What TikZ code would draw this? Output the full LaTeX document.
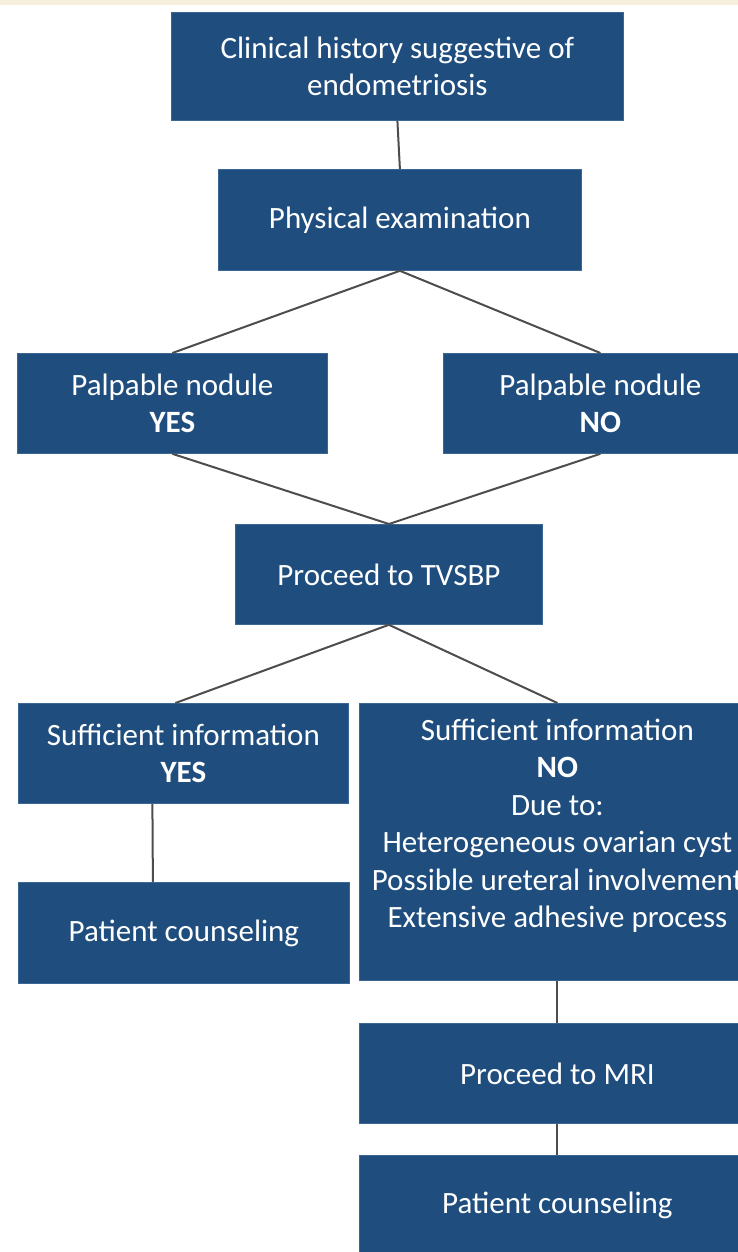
\documentclass[tikz,border=0pt]{standalone}
\usepackage{fontspec}
\setmainfont{Carlito}
\definecolor{boxblue}{HTML}{1F4E7E}
\definecolor{edgeblue}{HTML}{3A6893}
\definecolor{linegray}{HTML}{4D4D4D}
\definecolor{topbeige}{HTML}{F5EFDB}
\begin{document}
\begin{tikzpicture}[x=1pt,y=-1pt,
  flowbox/.style={fill=boxblue, draw=edgeblue, line width=0.8pt, anchor=north west,
    inner sep=0pt, align=center, text=white, font=\fontsize{31}{37.5}\selectfont},
  link/.style={draw=linegray, line width=2pt}]
\useasboundingbox (0,0) rectangle (738,1252);
\clip (0,0) rectangle (738,1252);
\fill[white] (0,0) rectangle (738,1252);
\fill[topbeige] (0,0) rectangle (738,5);

\node[flowbox, minimum width=452pt, minimum height=108pt] (b1) at (171,12)
  {Clinical history suggestive of\\endometriosis};
\node[flowbox, minimum width=363pt, minimum height=101pt] (b2) at (218,169)
  {Physical examination};
\node[flowbox, minimum width=310pt, minimum height=100pt] (py) at (17,353)
  {Palpable nodule\\\textbf{YES}};
\node[flowbox, minimum width=314pt, minimum height=100pt] (pn) at (443,353)
  {Palpable nodule\\\textbf{NO}};
\node[flowbox, minimum width=307pt, minimum height=100pt] (b5) at (235,524)
  {Proceed to TVSBP};
\node[flowbox, minimum width=330pt, minimum height=100pt] (sy) at (18,703)
  {Sufficient information\\\textbf{YES}};
\node[flowbox, minimum width=396pt, minimum height=277pt] (sn) at (359,703)
  {Sufficient information\\\textbf{NO}\\Due to:\\Heterogeneous ovarian cyst\\Possible ureteral involvement\\Extensive adhesive process\hspace*{30pt}\\\mbox{}};
\node[flowbox, minimum width=331pt, minimum height=101pt] (lc) at (18,882)
  {Patient counseling};
\node[flowbox, minimum width=396pt, minimum height=100pt] (mri) at (359,1023)
  {Proceed to MRI};
\node[flowbox, minimum width=396pt, minimum height=100pt] (rc) at (359,1155)
  {Patient counseling};

\draw[link] (b1.south) -- (b2.north);
\draw[link] (b2.south) -- (py.north);
\draw[link] (b2.south) -- (pn.north);
\draw[link] (py.south) -- (b5.north);
\draw[link] (pn.south) -- (b5.north);
\draw[link] (b5.south) -- ([xshift=-8pt]sy.north);
\draw[link] (b5.south) -- (sn.north);
\draw[link] ([xshift=-31pt]sy.south) -- ([xshift=-31pt]lc.north);
\draw[link] (sn.south) -- (mri.north);
\draw[link] (mri.south) -- (rc.north);
\end{tikzpicture}
\end{document}
